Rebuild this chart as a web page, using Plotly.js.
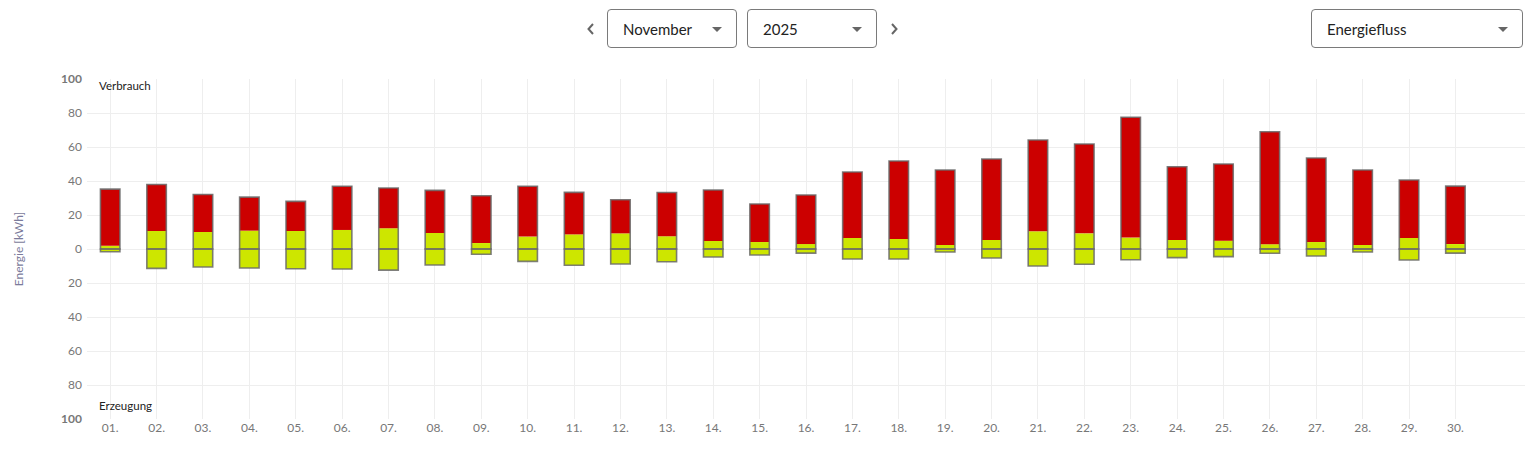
<!DOCTYPE html>
<html>
<head>
<meta charset="utf-8">
<script src="https://cdn.plot.ly/plotly-3.0.1.min.js"></script>
<style>
  html, body { margin:0; padding:0; background:#fff; width:1527px; height:450px; overflow:hidden; font-family: Lato, "Open Sans", sans-serif; }
  #chart { position:absolute; left:0; top:0; width:1527px; height:450px; }
  .sel { position:absolute; top:9px; height:39px; border:1px solid #7a7a7a; border-radius:4px; box-sizing:border-box; background:#fff; font-size:15px; color:#222; line-height:38px; padding-left:15px; z-index:5; }
  .sel .caret { position:absolute; right:14px; top:17px; width:0; height:0; border-left:5px solid transparent; border-right:5px solid transparent; border-top:5px solid #666; }
  .arrow { position:absolute; top:22px; z-index:5; }
</style>
</head>
<body>
<div id="chart"></div>
<svg class="arrow" style="left:586px;" width="10" height="14" viewBox="0 0 10 14"><polyline points="7,2 2.5,7 7,12" fill="none" stroke="#666" stroke-width="2"/></svg>
<div class="sel" style="left:607px; width:130px;">November<span class="caret"></span></div>
<div class="sel" style="left:747px; width:130px;">2025<span class="caret"></span></div>
<svg class="arrow" style="left:889px;" width="10" height="14" viewBox="0 0 10 14"><polyline points="3,2 7.5,7 3,12" fill="none" stroke="#666" stroke-width="2"/></svg>
<div class="sel" style="left:1311px; width:212px;">Energiefluss<span class="caret"></span></div>
<script>
const days = ['01.','02.','03.','04.','05.','06.','07.','08.','09.','10.','11.','12.','13.','14.','15.','16.','17.','18.','19.','20.','21.','22.','23.','24.','25.','26.','27.','28.','29.','30.'];
// total consumption (kWh)
const verbrauch = [35.2,37.9,32.1,30.5,28.0,36.9,35.9,34.5,31.3,36.9,33.3,29.0,33.2,34.7,26.5,31.8,45.3,51.8,46.5,52.9,64.1,61.8,77.5,48.4,50.0,69.0,53.5,46.5,40.6,37.0];
// consumption covered by own generation (kWh)
const eigenverbrauch = [1.9,10.6,10.0,10.8,10.6,11.2,12.2,9.4,3.5,7.3,8.6,9.2,7.5,4.7,4.1,2.9,6.5,5.9,2.4,5.3,10.4,9.2,6.7,5.3,4.9,2.8,4.1,2.4,6.5,2.9];
// generation (kWh)
const erzeugung = [1.6,11.4,10.6,11.2,11.6,11.8,12.4,9.4,3.1,7.3,9.6,8.8,7.5,4.7,3.5,2.4,5.9,5.9,1.8,5.3,10.0,9.0,6.3,5.1,4.5,2.5,4.1,1.8,6.5,2.4];
const yTickVals = [100,80,60,40,20,0,-20,-40,-60,-80,-100];
const yTickText = ['<b>100</b>','80','60','40','20','0','20','40','60','80','<b>100</b>'];

const xs = days.map((d,i)=>i);
const red = '#cc0000', green = '#cde600', outline = 'rgba(105,105,105,0.85)';
const W = 0.42;
const netz = verbrauch.map((v,i)=>v - eigenverbrauch[i]);
const neg = erzeugung.map(v=>-v);

const traces = [
  {type:'bar', x:xs, y:eigenverbrauch, base:xs.map(()=>0), width:W, marker:{color:green, line:{width:0}}, hoverinfo:'skip'},
  {type:'bar', x:xs, y:netz, base:eigenverbrauch, width:W, marker:{color:red, line:{width:0}}, hoverinfo:'skip'},
  {type:'bar', x:xs, y:neg, base:xs.map(()=>0), width:W, marker:{color:green, line:{width:0}}, hoverinfo:'skip'},
  {type:'bar', x:xs, y:verbrauch, base:xs.map(()=>0), width:W, marker:{color:'rgba(0,0,0,0)', line:{width:1.6, color:outline}}, hoverinfo:'skip'},
  {type:'bar', x:xs, y:neg, base:xs.map(()=>0), width:W, marker:{color:'rgba(0,0,0,0)', line:{width:1.6, color:outline}}, hoverinfo:'skip'}
];

const layout = {
  width:1527, height:450,
  margin:{l:87, r:2, t:79, b:31},
  paper_bgcolor:'#fff', plot_bgcolor:'#fff',
  barmode:'overlay', showlegend:false,
  font:{family:'Lato, "Open Sans", sans-serif', color:'#777', size:12},
  xaxis:{range:[-0.5,30.5], tickvals:xs, ticktext:days, showgrid:true, gridcolor:'#eeeeee', gridwidth:1, zeroline:false, showline:false, ticks:'', tickfont:{size:12, color:'#777'}, fixedrange:true},
  yaxis:{range:[-100,100], tickvals:yTickVals, ticktext:yTickText, showgrid:true, gridcolor:'#eeeeee', gridwidth:1, zeroline:false, showline:false, ticks:'', ticklabelstandoff:4, tickfont:{size:12, color:'#777'},
         title:{text:'Energie [kWh]', font:{size:12, color:'#7b7b9b'}, standoff:34}, fixedrange:true},
  annotations:[
    {text:'Verbrauch', xref:'paper', yref:'paper', x:10/1438, y:1-6/340, xanchor:'left', yanchor:'middle', showarrow:false, font:{size:11.5, color:'#222'}},
    {text:'Erzeugung', xref:'paper', yref:'paper', x:10/1438, y:14/340, xanchor:'left', yanchor:'middle', showarrow:false, font:{size:11.5, color:'#222'}}
  ]
};
Plotly.newPlot('chart', traces, layout, {displayModeBar:false, staticPlot:true});
</script>
</body>
</html>
